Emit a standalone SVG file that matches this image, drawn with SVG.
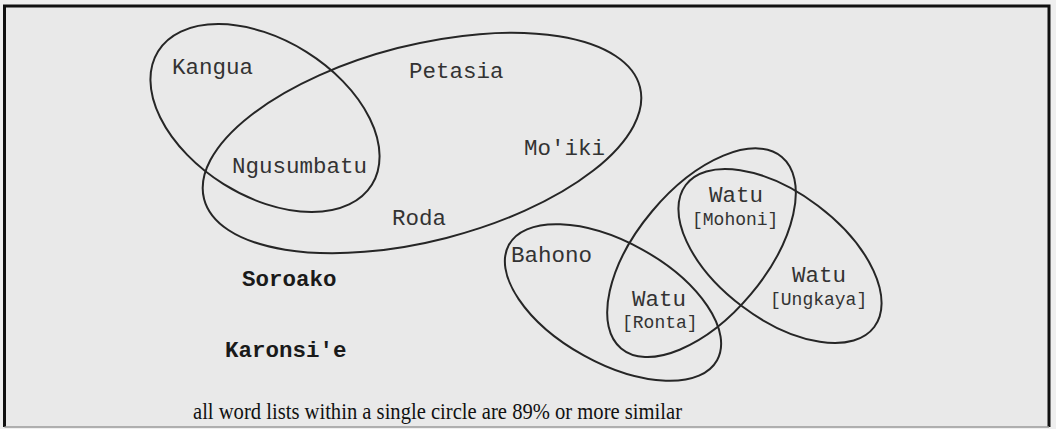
<svg xmlns="http://www.w3.org/2000/svg" width="1056" height="429" viewBox="0 0 1056 429">
<style>
.ring{fill:none;stroke:#262626;stroke-width:2}
.lbl{font-family:"Liberation Mono","Courier New",monospace;font-size:22.5px;fill:#333}
.sub{font-size:18px}
.dark{font-weight:bold;fill:#1a1a1a}
.cap{font-family:"Liberation Serif","Times New Roman",serif;font-size:24px;fill:#111}
</style>
<rect x="0" y="0" width="1056" height="429" fill="#efefef"/>
<rect x="4.5" y="6" width="1044.5" height="421" fill="#e9e9e9"/>
<path d="M4.5,427 V6 H1049 V427" fill="none" stroke="#111" stroke-width="3"/>
<line x1="4.5" y1="427" x2="1049" y2="427" stroke="#9a9a9a" stroke-width="1.5"/>
<g id="circle-kangua">
<ellipse class="ring" cx="265" cy="118" rx="126" ry="78" transform="rotate(32 265 118)"/>
</g>
<g id="circle-petasia">
<ellipse class="ring" cx="422" cy="143" rx="225" ry="98" transform="rotate(-14.4 422 143)"/>
</g>
<g id="circle-bahono">
<ellipse class="ring" cx="613" cy="302.5" rx="119" ry="60.5" transform="rotate(29 613 302.5)"/>
</g>
<g id="circle-mohoni">
<ellipse class="ring" cx="701.5" cy="252.7" rx="125" ry="64.5" transform="rotate(-50 701.5 252.7)"/>
</g>
<g id="circle-ungkaya">
<ellipse class="ring" cx="780" cy="256" rx="118" ry="63" transform="rotate(37 780 256)"/>
</g>
<g id="kangua"><text class="lbl" x="172" y="74">Kangua</text></g>
<g id="ngusumbatu"><text class="lbl" x="232" y="173">Ngusumbatu</text></g>
<g id="petasia"><text class="lbl" x="409" y="78">Petasia</text></g>
<g id="moiki"><text class="lbl" x="524" y="155">Mo'iki</text></g>
<g id="roda"><text class="lbl" x="392" y="225">Roda</text></g>
<g id="bahono"><text class="lbl" x="511" y="262">Bahono</text></g>
<g id="watu-mohoni"><text class="lbl" x="709" y="202">Watu</text><text class="lbl sub" x="692" y="225">[Mohoni]</text></g>
<g id="watu-ungkaya"><text class="lbl" x="792" y="282">Watu</text><text class="lbl sub" x="770" y="305">[Ungkaya]</text></g>
<g id="watu-ronta"><text class="lbl" x="632" y="306">Watu</text><text class="lbl sub" x="622" y="328">[Ronta]</text></g>
<g id="soroako"><text class="lbl dark" x="242" y="286">Soroako</text></g>
<g id="karonsie"><text class="lbl dark" x="225" y="357">Karonsi'e</text></g>
<g id="caption"><text class="cap" x="193" y="419" textLength="489" lengthAdjust="spacingAndGlyphs">all word lists within a single circle are 89% or more similar</text></g>
</svg>
